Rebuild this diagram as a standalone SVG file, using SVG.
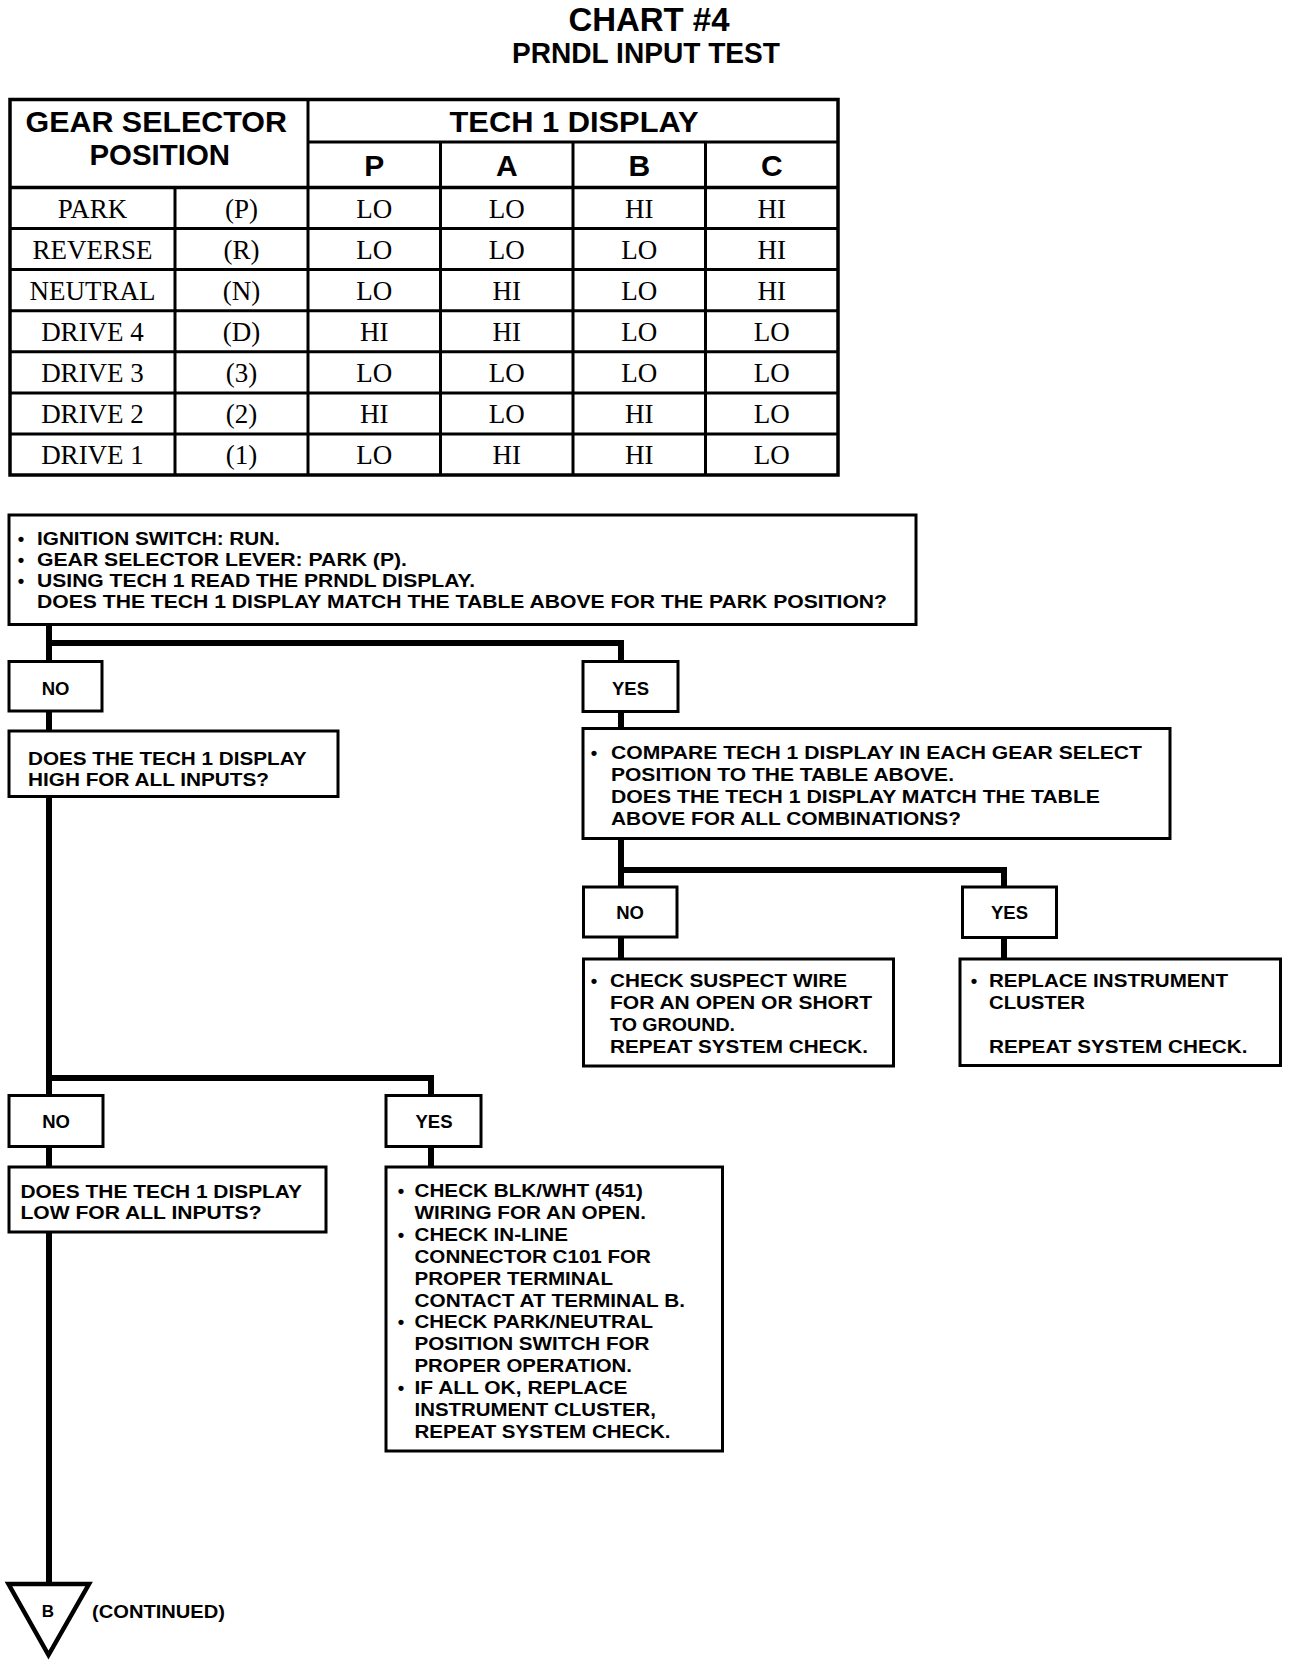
<svg xmlns="http://www.w3.org/2000/svg" width="1296" height="1664" viewBox="0 0 1296 1664">
<style>
.bg{fill:#fff}
.box{fill:#fff;stroke:#000;stroke-width:3}
.t{font-family:"Liberation Sans",Arial,Helvetica,sans-serif;font-weight:bold;font-size:18.5px;fill:#000}
.m{text-anchor:middle}
.c{fill:none;stroke:#000;stroke-width:6;stroke-linejoin:miter;stroke-linecap:butt}
.tl{stroke:#000;stroke-width:3;fill:none}
.hd{font-family:"Liberation Sans",Arial,Helvetica,sans-serif;font-weight:bold;font-size:30px;fill:#000}
.td{font-family:"Liberation Serif","Times New Roman",serif;font-size:27px;fill:#000;text-anchor:middle}
.tri{fill:#fff;stroke:#000;stroke-width:4.5;stroke-linejoin:miter}
</style>
<rect class="bg" x="0" y="0" width="1296" height="1664"/>

<g id="title">
<text class="hd" x="568.5" y="30.5" style="font-size:33px" textLength="161" lengthAdjust="spacingAndGlyphs">CHART #4</text>
<text class="hd" x="512" y="62.5" style="font-size:29px" textLength="268" lengthAdjust="spacingAndGlyphs">PRNDL INPUT TEST</text>
</g>

<g id="table">
<rect class="tl" x="10" y="99.5" width="828" height="375.5" style="stroke-width:3.5"/>
<line class="tl" x1="308" y1="99.5" x2="308" y2="475"/>
<line class="tl" x1="175" y1="187.5" x2="175" y2="475"/>
<line class="tl" x1="440.5" y1="142" x2="440.5" y2="475"/>
<line class="tl" x1="573" y1="142" x2="573" y2="475"/>
<line class="tl" x1="705.5" y1="142" x2="705.5" y2="475"/>
<line class="tl" x1="308" y1="142" x2="838" y2="142"/>
<line class="tl" x1="10" y1="187.5" x2="838" y2="187.5" style="stroke-width:3.5"/>
<line class="tl" x1="10" y1="228.6" x2="838" y2="228.6"/>
<line class="tl" x1="10" y1="269.6" x2="838" y2="269.6"/>
<line class="tl" x1="10" y1="310.7" x2="838" y2="310.7"/>
<line class="tl" x1="10" y1="351.8" x2="838" y2="351.8"/>
<line class="tl" x1="10" y1="392.9" x2="838" y2="392.9"/>
<line class="tl" x1="10" y1="433.9" x2="838" y2="433.9"/>

<text class="hd" x="25.5" y="132" style="font-size:29.5px" textLength="261.5" lengthAdjust="spacingAndGlyphs">GEAR SELECTOR</text>
<text class="hd" x="89.5" y="165" style="font-size:29.5px" textLength="140.5" lengthAdjust="spacingAndGlyphs">POSITION</text>
<text class="hd" x="449.5" y="131.5" textLength="249" lengthAdjust="spacingAndGlyphs">TECH 1 DISPLAY</text>
<text class="hd m" x="374.3" y="175.5">P</text>
<text class="hd m" x="506.8" y="175.5">A</text>
<text class="hd m" x="639.3" y="175.5">B</text>
<text class="hd m" x="771.8" y="175.5">C</text>

<g>
<text class="td" x="92.5" y="217.5">PARK</text><text class="td" x="241.5" y="217.5">(P)</text>
<text class="td" x="374.3" y="217.5">LO</text><text class="td" x="506.8" y="217.5">LO</text><text class="td" x="639.3" y="217.5">HI</text><text class="td" x="771.8" y="217.5">HI</text>
</g>
<g>
<text class="td" x="92.5" y="258.6">REVERSE</text><text class="td" x="241.5" y="258.6">(R)</text>
<text class="td" x="374.3" y="258.6">LO</text><text class="td" x="506.8" y="258.6">LO</text><text class="td" x="639.3" y="258.6">LO</text><text class="td" x="771.8" y="258.6">HI</text>
</g>
<g>
<text class="td" x="92.5" y="299.6">NEUTRAL</text><text class="td" x="241.5" y="299.6">(N)</text>
<text class="td" x="374.3" y="299.6">LO</text><text class="td" x="506.8" y="299.6">HI</text><text class="td" x="639.3" y="299.6">LO</text><text class="td" x="771.8" y="299.6">HI</text>
</g>
<g>
<text class="td" x="92.5" y="340.7">DRIVE 4</text><text class="td" x="241.5" y="340.7">(D)</text>
<text class="td" x="374.3" y="340.7">HI</text><text class="td" x="506.8" y="340.7">HI</text><text class="td" x="639.3" y="340.7">LO</text><text class="td" x="771.8" y="340.7">LO</text>
</g>
<g>
<text class="td" x="92.5" y="381.8">DRIVE 3</text><text class="td" x="241.5" y="381.8">(3)</text>
<text class="td" x="374.3" y="381.8">LO</text><text class="td" x="506.8" y="381.8">LO</text><text class="td" x="639.3" y="381.8">LO</text><text class="td" x="771.8" y="381.8">LO</text>
</g>
<g>
<text class="td" x="92.5" y="422.9">DRIVE 2</text><text class="td" x="241.5" y="422.9">(2)</text>
<text class="td" x="374.3" y="422.9">HI</text><text class="td" x="506.8" y="422.9">LO</text><text class="td" x="639.3" y="422.9">HI</text><text class="td" x="771.8" y="422.9">LO</text>
</g>
<g>
<text class="td" x="92.5" y="463.9">DRIVE 1</text><text class="td" x="241.5" y="463.9">(1)</text>
<text class="td" x="374.3" y="463.9">LO</text><text class="td" x="506.8" y="463.9">HI</text><text class="td" x="639.3" y="463.9">HI</text><text class="td" x="771.8" y="463.9">LO</text>
</g>
</g>

<g id="connectors">
<path class="c" d="M49,624 V661.5"/>
<path class="c" d="M49,643 H621 V661.5"/>
<path class="c" d="M49,710.5 V731"/>
<path class="c" d="M621,711.5 V728.5"/>
<path class="c" d="M621,838.5 V887"/>
<path class="c" d="M621,870 H1004 V887"/>
<path class="c" d="M621,937 V959"/>
<path class="c" d="M1004,937.5 V959"/>
<path class="c" d="M49,796.5 V1095.5"/>
<path class="c" d="M49,1078 H431 V1095.5"/>
<path class="c" d="M49,1146.5 V1167"/>
<path class="c" d="M431,1146.5 V1167"/>
<path class="c" d="M49,1232 V1584"/>
</g>

<g id="start">
<rect class="box" x="9" y="515" width="907" height="109.5"/>
<text class="t m" x="21" y="545">•</text>
<text class="t" x="37" y="545" textLength="243" lengthAdjust="spacingAndGlyphs">IGNITION SWITCH: RUN.</text>
<text class="t m" x="21" y="566">•</text>
<text class="t" x="37" y="566" textLength="370" lengthAdjust="spacingAndGlyphs">GEAR SELECTOR LEVER: PARK (P).</text>
<text class="t m" x="21" y="587">•</text>
<text class="t" x="37" y="587" textLength="438" lengthAdjust="spacingAndGlyphs">USING TECH 1 READ THE PRNDL DISPLAY.</text>
<text class="t" x="37" y="608" textLength="850" lengthAdjust="spacingAndGlyphs">DOES THE TECH 1 DISPLAY MATCH THE TABLE ABOVE FOR THE PARK POSITION?</text>
</g>

<g id="no1">
<rect class="box" x="9" y="661.5" width="93" height="49.5"/>
<text class="t m" x="55.5" y="694.5">NO</text>
</g>
<g id="yes1">
<rect class="box" x="583" y="661.5" width="95" height="50"/>
<text class="t m" x="630.5" y="694.5">YES</text>
</g>

<g id="high">
<rect class="box" x="9" y="731" width="329" height="65.5"/>
<text class="t" x="28" y="765" textLength="278.5" lengthAdjust="spacingAndGlyphs">DOES THE TECH 1 DISPLAY</text>
<text class="t" x="28" y="786" textLength="241" lengthAdjust="spacingAndGlyphs">HIGH FOR ALL INPUTS?</text>
</g>

<g id="compare">
<rect class="box" x="583" y="728.5" width="587" height="110"/>
<text class="t m" x="594" y="759">•</text>
<text class="t" x="611" y="759" textLength="531" lengthAdjust="spacingAndGlyphs">COMPARE TECH 1 DISPLAY IN EACH GEAR SELECT</text>
<text class="t" x="611" y="781" textLength="343" lengthAdjust="spacingAndGlyphs">POSITION TO THE TABLE ABOVE.</text>
<text class="t" x="611" y="803" textLength="489" lengthAdjust="spacingAndGlyphs">DOES THE TECH 1 DISPLAY MATCH THE TABLE</text>
<text class="t" x="611" y="825" textLength="350" lengthAdjust="spacingAndGlyphs">ABOVE FOR ALL COMBINATIONS?</text>
</g>

<g id="no2">
<rect class="box" x="583.5" y="887" width="93.5" height="50"/>
<text class="t m" x="630" y="918.5">NO</text>
</g>
<g id="yes2">
<rect class="box" x="962.5" y="887" width="94" height="50.5"/>
<text class="t m" x="1009.5" y="918.5">YES</text>
</g>

<g id="suspect">
<rect class="box" x="583.5" y="959" width="310" height="107"/>
<text class="t m" x="594" y="987">•</text>
<text class="t" x="610" y="987" textLength="237" lengthAdjust="spacingAndGlyphs">CHECK SUSPECT WIRE</text>
<text class="t" x="610" y="1009" textLength="262" lengthAdjust="spacingAndGlyphs">FOR AN OPEN OR SHORT</text>
<text class="t" x="610" y="1031" textLength="125" lengthAdjust="spacingAndGlyphs">TO GROUND.</text>
<text class="t" x="610" y="1053" textLength="258" lengthAdjust="spacingAndGlyphs">REPEAT SYSTEM CHECK.</text>
</g>

<g id="replace">
<rect class="box" x="960" y="959" width="320.5" height="106.5"/>
<text class="t m" x="974" y="987">•</text>
<text class="t" x="989" y="987" textLength="239" lengthAdjust="spacingAndGlyphs">REPLACE INSTRUMENT</text>
<text class="t" x="989" y="1009" textLength="96" lengthAdjust="spacingAndGlyphs">CLUSTER</text>
<text class="t" x="989" y="1053" textLength="258.5" lengthAdjust="spacingAndGlyphs">REPEAT SYSTEM CHECK.</text>
</g>

<g id="no3">
<rect class="box" x="9" y="1095.5" width="94" height="51"/>
<text class="t m" x="56" y="1127.5">NO</text>
</g>
<g id="yes3">
<rect class="box" x="386" y="1095.5" width="95" height="51"/>
<text class="t m" x="434" y="1127.5">YES</text>
</g>

<g id="low">
<rect class="box" x="9" y="1167" width="317" height="65"/>
<text class="t" x="20.5" y="1198" textLength="281.5" lengthAdjust="spacingAndGlyphs">DOES THE TECH 1 DISPLAY</text>
<text class="t" x="20.5" y="1219" textLength="241" lengthAdjust="spacingAndGlyphs">LOW FOR ALL INPUTS?</text>
</g>

<g id="blkwht">
<rect class="box" x="386" y="1167" width="336.5" height="284"/>
<text class="t m" x="401" y="1197">•</text>
<text class="t" x="414.5" y="1197" textLength="228.5" lengthAdjust="spacingAndGlyphs">CHECK BLK/WHT (451)</text>
<text class="t" x="414.5" y="1218.9" textLength="231.5" lengthAdjust="spacingAndGlyphs">WIRING FOR AN OPEN.</text>
<text class="t m" x="401" y="1240.8">•</text>
<text class="t" x="414.5" y="1240.8" textLength="153.5" lengthAdjust="spacingAndGlyphs">CHECK IN-LINE</text>
<text class="t" x="414.5" y="1262.7" textLength="236.5" lengthAdjust="spacingAndGlyphs">CONNECTOR C101 FOR</text>
<text class="t" x="414.5" y="1284.6" textLength="198.5" lengthAdjust="spacingAndGlyphs">PROPER TERMINAL</text>
<text class="t" x="414.5" y="1306.5" textLength="270.5" lengthAdjust="spacingAndGlyphs">CONTACT AT TERMINAL B.</text>
<text class="t m" x="401" y="1328.4">•</text>
<text class="t" x="414.5" y="1328.4" textLength="238.5" lengthAdjust="spacingAndGlyphs">CHECK PARK/NEUTRAL</text>
<text class="t" x="414.5" y="1350.3" textLength="235" lengthAdjust="spacingAndGlyphs">POSITION SWITCH FOR</text>
<text class="t" x="414.5" y="1372.2" textLength="217.5" lengthAdjust="spacingAndGlyphs">PROPER OPERATION.</text>
<text class="t m" x="401" y="1394.1">•</text>
<text class="t" x="414.5" y="1394.1" textLength="213" lengthAdjust="spacingAndGlyphs">IF ALL OK, REPLACE</text>
<text class="t" x="414.5" y="1416" textLength="241.5" lengthAdjust="spacingAndGlyphs">INSTRUMENT CLUSTER,</text>
<text class="t" x="414.5" y="1437.9" textLength="256" lengthAdjust="spacingAndGlyphs">REPEAT SYSTEM CHECK.</text>
</g>

<g id="offpage-b">
<polygon class="tri" points="8.5,1584 89,1584 48.5,1655"/>
<text class="t m" x="48" y="1617" style="font-size:17px">B</text>
<text class="t" x="92" y="1618" textLength="133" lengthAdjust="spacingAndGlyphs">(CONTINUED)</text>
</g>
</svg>
